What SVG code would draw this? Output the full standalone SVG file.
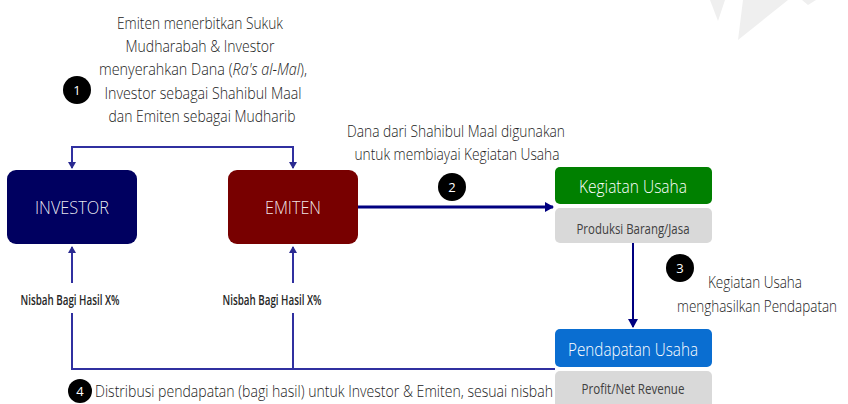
<svg xmlns="http://www.w3.org/2000/svg" width="848" height="404" viewBox="0 0 848 404">
<style>
.t{font-family:"Open Sans","Liberation Sans",sans-serif;font-weight:300;fill:#222222;text-anchor:middle}
.lbl{font-family:"Open Sans","Liberation Sans",sans-serif;font-weight:600;fill:#262626;text-anchor:middle;font-size:14px}
.wt{font-family:"Open Sans","Liberation Sans",sans-serif;fill:#ffffff;text-anchor:middle}
.gt{font-family:"Open Sans","Liberation Sans",sans-serif;fill:#404040;text-anchor:middle;font-size:14px}
.num{font-family:"Open Sans","Liberation Sans",sans-serif;fill:#ffffff;text-anchor:middle;font-size:13px}
.ln{fill:none;stroke:#3030a0;stroke-width:2}
.lnd{fill:none;stroke:#000080;stroke-width:2}
.lnb{fill:none;stroke:#000080;stroke-width:3}
</style>
<defs>
<marker id="ah" markerWidth="8" markerHeight="8" refX="6" refY="4" orient="auto" markerUnits="userSpaceOnUse">
<path d="M0,0 L7,4 L0,8 Z" fill="#2a2a90"/>
</marker>
<marker id="ahd" markerWidth="10" markerHeight="10" refX="8" refY="5" orient="auto" markerUnits="userSpaceOnUse">
<path d="M0,0 L9,5 L0,10 Z" fill="#000080"/>
</marker>
</defs>
<rect width="848" height="404" fill="#ffffff"/>
<g id="watermark" fill="#efefef">
<polygon points="710,0 725,0 718,21"/>
<polygon points="743,0 788,0 738,40"/>
<polygon points="802,0 816,0 808,5"/>
</g>
<g id="connectors">
<path class="ln" d="M72,147 H293"/>
<path class="ln" d="M72,146 V168" marker-end="url(#ah)"/>
<path class="ln" d="M293,146 V168" marker-end="url(#ah)"/>
<path class="lnb" d="M358,207 H553" marker-end="url(#ahd)"/>
<path class="lnd" d="M633,243 V327" marker-end="url(#ahd)"/>
<path class="ln" d="M72,283 V247" marker-end="url(#ah)"/>
<path class="ln" d="M293,283 V247" marker-end="url(#ah)"/>
<path class="ln" d="M72,313 V369 H555"/>
<path class="ln" d="M293,313 V369"/>
</g>
<g id="step1">
<circle cx="77" cy="90" r="14" fill="#000000"/>
<text class="num" x="77" y="94.500">1</text>
<text class="t" font-size="17" x="200" y="29" textLength="166" lengthAdjust="spacingAndGlyphs">Emiten menerbitkan Sukuk</text>
<text class="t" font-size="17" x="200" y="52" textLength="149" lengthAdjust="spacingAndGlyphs">Mudharabah  &amp; Investor</text>
<text class="t" font-size="17" x="203" y="75" textLength="208" lengthAdjust="spacingAndGlyphs">menyerahkan Dana (<tspan font-style="italic">Ra's al-Mal</tspan>),</text>
<text class="t" font-size="17" x="203" y="99" textLength="197" lengthAdjust="spacingAndGlyphs">Investor sebagai Shahibul Maal</text>
<text class="t" font-size="17" x="202" y="122" textLength="187" lengthAdjust="spacingAndGlyphs">dan Emiten sebagai Mudharib</text>
</g>
<g id="step2">
<circle cx="452" cy="187" r="14" fill="#000000"/>
<text class="num" x="452" y="191.500">2</text>
<text class="t" font-size="17" x="456" y="137" textLength="218" lengthAdjust="spacingAndGlyphs">Dana dari Shahibul Maal digunakan</text>
<text class="t" font-size="17" x="457" y="160" textLength="205" lengthAdjust="spacingAndGlyphs">untuk membiayai Kegiatan Usaha</text>
</g>
<g id="step3">
<circle cx="680" cy="268" r="14" fill="#000000"/>
<text class="num" x="680" y="272.500">3</text>
<text class="t" font-size="17" x="755" y="288" textLength="94" lengthAdjust="spacingAndGlyphs">Kegiatan Usaha</text>
<text class="t" font-size="17" x="757" y="312" textLength="160" lengthAdjust="spacingAndGlyphs">menghasilkan Pendapatan</text>
</g>
<g id="step4">
<circle cx="80" cy="391" r="12" fill="#000000"/>
<text class="num" x="80" y="395.500">4</text>
<text class="t" font-size="17" x="324" y="397" textLength="458" lengthAdjust="spacingAndGlyphs">Distribusi pendapatan (bagi hasil) untuk Investor &amp; Emiten, sesuai nisbah</text>
</g>
<g id="investor">
<rect x="7" y="170" width="130" height="74" rx="9" fill="#000060"/>
<text class="wt" font-size="18" font-weight="300" x="72" y="214" textLength="74" lengthAdjust="spacingAndGlyphs" fill-opacity="0.92">INVESTOR</text>
</g>
<g id="emiten">
<rect x="228" y="170" width="130" height="74" rx="9" fill="#780000"/>
<text class="wt" font-size="18" font-weight="300" x="293" y="214" textLength="56" lengthAdjust="spacingAndGlyphs" fill-opacity="0.92">EMITEN</text>
</g>
<g id="nisbah-investor">
<text class="lbl" x="70" y="305" textLength="99" lengthAdjust="spacingAndGlyphs">Nisbah Bagi Hasil X%</text>
</g>
<g id="nisbah-emiten">
<text class="lbl" x="272" y="305" textLength="99" lengthAdjust="spacingAndGlyphs">Nisbah Bagi Hasil X%</text>
</g>
<g id="kegiatan">
<rect x="555" y="167" width="157" height="37" rx="5" fill="#008000"/>
<text class="wt" font-size="19" font-weight="300" x="633" y="193" textLength="108" lengthAdjust="spacingAndGlyphs">Kegiatan Usaha</text>
<rect x="555" y="208" width="157" height="35" rx="5" fill="#d9d9d9"/>
<text class="gt" x="633" y="234" textLength="113" lengthAdjust="spacingAndGlyphs">Produksi Barang/Jasa</text>
</g>
<g id="pendapatan">
<rect x="555" y="329" width="157" height="38" rx="5" fill="#0a6ed1"/>
<text class="wt" font-size="19" font-weight="300" x="633" y="356" textLength="130" lengthAdjust="spacingAndGlyphs">Pendapatan Usaha</text>
<rect x="555" y="371" width="157" height="40" rx="5" fill="#d9d9d9"/>
<text class="gt" x="633" y="394" textLength="103" lengthAdjust="spacingAndGlyphs">Profit/Net Revenue</text>
</g>
</svg>
